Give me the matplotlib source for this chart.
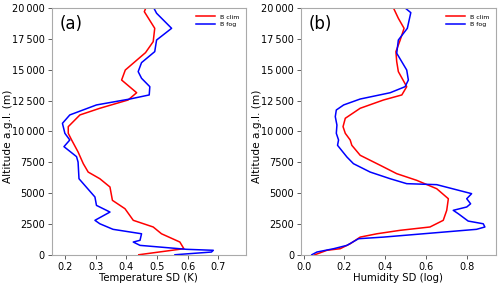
import matplotlib
matplotlib.use("Agg")
import matplotlib.pyplot as plt
from matplotlib.ticker import FuncFormatter

# Panel (a): temperature SD (K)
t_clim_alt = [20000, 19700, 18350, 17270, 16380, 14970, 14160, 13130, 12540, 11870, 11330, 10380,
              9840, 9300, 8330, 7380, 6700, 6160, 5490, 4410, 3730, 2790, 2250, 1700, 1030, 490, 0]
t_clim_val = [0.464, 0.459, 0.493, 0.488, 0.463, 0.397, 0.385, 0.434, 0.406, 0.314, 0.249, 0.211,
              0.211, 0.222, 0.243, 0.260, 0.276, 0.314, 0.347, 0.355, 0.396, 0.423, 0.488, 0.515, 0.575, 0.588, 0.441]
t_fog_alt = [20000, 19570, 18350, 17400, 16460, 15570, 14840, 14300, 13620, 12950, 12620, 12140, 11330,
             10650, 9840, 9300, 8760, 7950, 7510, 6160, 4680, 4000, 3460, 2790, 2510, 2060, 1700, 1170,
             1030, 760, 440, 360, 220, 0]
t_fog_val = [0.490, 0.499, 0.548, 0.499, 0.493, 0.450, 0.439, 0.450, 0.477, 0.475, 0.412, 0.303, 0.216,
             0.192, 0.200, 0.216, 0.197, 0.238, 0.243, 0.246, 0.298, 0.303, 0.347, 0.298, 0.314, 0.357, 0.450, 0.445,
             0.423, 0.445, 0.597, 0.684, 0.678, 0.559]

# Panel (b): humidity SD (log)
h_clim_alt = [20000, 19160, 18350, 17400, 16460, 15650, 14840, 13620, 12950, 12540, 11870, 11060, 10380,
              9840, 9300, 8870, 8060, 7250, 6570, 6030, 5350, 4540, 3600, 2790, 2250, 1980, 1700, 1430,
              890, 490, 360, 0]
h_clim_val = [0.440, 0.464, 0.492, 0.473, 0.452, 0.456, 0.464, 0.505, 0.481, 0.391, 0.277, 0.204, 0.193,
              0.204, 0.228, 0.236, 0.277, 0.375, 0.456, 0.554, 0.652, 0.709, 0.701, 0.684, 0.619, 0.473, 0.359, 0.277,
              0.228, 0.179, 0.114, 0.055]
h_fog_alt = [20000, 19620, 18350, 17400, 16330, 14970, 14160, 13620, 13130, 12620, 12140, 11730, 11190,
             10510, 9840, 9300, 8870, 8600, 7920, 7380, 6700, 6160, 5760, 5680, 4950, 4540, 4130, 3870,
             3600, 3320, 2730, 2510, 2250, 2060, 1430, 1300, 760, 490, 220, 0]
h_fog_val = [0.497, 0.525, 0.508, 0.464, 0.456, 0.505, 0.513, 0.497, 0.424, 0.277, 0.196, 0.160, 0.155,
             0.163, 0.160, 0.171, 0.166, 0.179, 0.212, 0.244, 0.326, 0.424, 0.505, 0.652, 0.823, 0.799, 0.818, 0.799,
             0.733, 0.758, 0.806, 0.880, 0.888, 0.847, 0.391, 0.269, 0.212, 0.147, 0.065, 0.040]

yticks = list(range(0, 20001, 2500))
t_xticks = [0.2, 0.3, 0.4, 0.5, 0.6, 0.7]
h_xticks = [0.0, 0.2, 0.4, 0.6, 0.8]


def yfmt(v, pos):
    v = int(round(v))
    s = str(v)
    if v >= 10000:
        s = s[:-3] + "\u2009" + s[-3:]
    return s


fig = plt.figure(figsize=(5, 2.84), dpi=100)
ax1 = fig.add_axes([0.1034, 0.103, 0.3876, 0.869])
ax2 = fig.add_axes([0.602, 0.103, 0.389, 0.869])

panels = [
    (ax1, t_clim_val, t_clim_alt, t_fog_val, t_fog_alt, "Temperature SD (K)", "(a)", t_xticks, (0.157, 0.789)),
    (ax2, h_clim_val, h_clim_alt, h_fog_val, h_fog_alt, "Humidity SD (log)", "(b)", h_xticks, (-0.013, 0.94)),
]

for ax, cv, ca, fv, fa, xl, lab, xt, xlim in panels:
    ax.plot(cv, ca, color="#ff0000", lw=1.1, label="B clim")
    ax.plot(fv, fa, color="#0000ff", lw=1.1, label="B fog")
    ax.set_ylim(0, 20000)
    ax.set_xlim(*xlim)
    ax.set_yticks(yticks)
    ax.set_xticks(xt)
    ax.yaxis.set_major_formatter(FuncFormatter(yfmt))
    ax.tick_params(labelsize=7.0, length=3, width=0.6, color="#444444", pad=2)
    for sp in ax.spines.values():
        sp.set_color("#aaaaaa")
        sp.set_linewidth(0.8)
    ax.set_xlabel(xl, fontsize=7.3, labelpad=1)
    ax.set_ylabel("Altitude a.g.l. (m)", fontsize=7.6)
    ax.text(0.04, 0.97, lab, transform=ax.transAxes, fontsize=12, va="top", ha="left")
    ax.legend(loc="upper right", fontsize=4.5, frameon=False, handlelength=3,
              borderaxespad=0.6, labelspacing=0.3, handletextpad=0.8)

ax1.yaxis.set_label_coords(13.5 / 500, 0.52, transform=fig.transFigure)
ax2.yaxis.set_label_coords(262 / 500, 0.52, transform=fig.transFigure)

fig.savefig("out.png", dpi=100)
